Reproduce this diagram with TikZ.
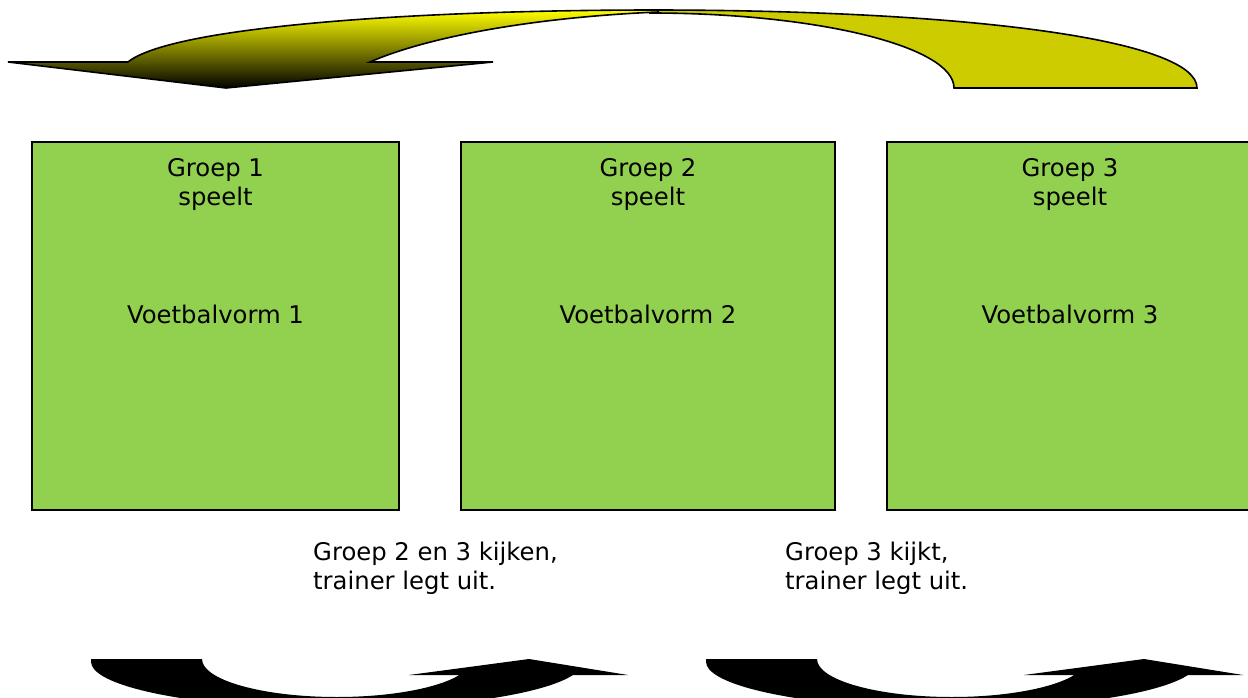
\documentclass[tikz,border=0pt]{standalone}
\usepackage{fontspec}
\setmainfont{DejaVu Sans}
\usetikzlibrary{positioning}
\definecolor{veldgroen}{RGB}{146,208,80}
\definecolor{pijlgeel}{RGB}{204,204,0}
\tikzset{
  veld/.style={draw=black, line width=1.2pt, fill=veldgroen, minimum height=368pt, inner sep=0pt},
  tekst/.style={font=\fontsize{24.3}{28.5}\selectfont, inner sep=0pt, align=center},
  uitleg/.style={font=\fontsize{24.3}{28.5}\selectfont, inner sep=0pt, align=left, anchor=north west}
}

\begin{document}
\begin{tikzpicture}[x=1pt, y=-1pt]

\useasboundingbox (0,0) rectangle (1248,698);
\clip (0,0) rectangle (1248,698);

% pijl boven: achterkant en voorkant
\draw[line width=1.6pt, fill=pijlgeel] (1197,88) .. controls (1197,41) and (978,10) .. (650,10)
  -- (650,13) .. controls (818,13) and (954,46.6) .. (954,88) -- cycle;
\draw[line width=1.6pt, top color=yellow, middle color=yellow!78!black, bottom color=black] (8,62) -- (128,62) .. controls (170,28) and (400,10) .. (658,10)
  -- (658,12) .. controls (520,18) and (420,40) .. (370,62) -- (493,62) -- (226,88) -- cycle;

\node[veld, minimum width=367pt] (veld1) at (215.5,326) {};
\node[veld, minimum width=374pt] (veld2) at (648,326) {};
\node[veld, minimum width=374pt] (veld3) at (1074,326) {};

\node[tekst, below=17pt of veld1.north] (groep1) {Groep 1\\speelt};
\node[tekst, below=17pt of veld2.north] (groep2) {Groep 2\\speelt};
\node[tekst, below=17pt of veld3.north, xshift=-4pt] (groep3) {Groep 3\\speelt};

\node[tekst] (vorm1) at ([yshift=12pt]veld1.center) {Voetbalvorm 1};
\node[tekst] (vorm2) at ([yshift=12pt]veld2.center) {Voetbalvorm 2};
\node[tekst] (vorm3) at ([xshift=-4pt, yshift=12pt]veld3.center) {Voetbalvorm 3};

\node[uitleg] (uitleg1) at (313,542) {Groep 2 en 3 kijken,\\trainer legt uit.};
\node[uitleg] (uitleg2) at (785,542) {Groep 3 kijkt,\\trainer legt uit.};

% pijlen onder
\fill (91,659) -- (202,659) arc[start angle=180, end angle=25.3, x radius=135, y radius=38]
  -- (409,675) -- (529,659) -- (628,675) -- (573,675)
  arc[start angle=16.4, end angle=180, x radius=246, y radius=47] -- cycle;
\fill (706,659) -- (817,659) arc[start angle=180, end angle=25.3, x radius=135, y radius=38]
  -- (1024,675) -- (1144,659) -- (1243,675) -- (1188,675)
  arc[start angle=16.4, end angle=180, x radius=246, y radius=47] -- cycle;

\end{tikzpicture}
\end{document}
